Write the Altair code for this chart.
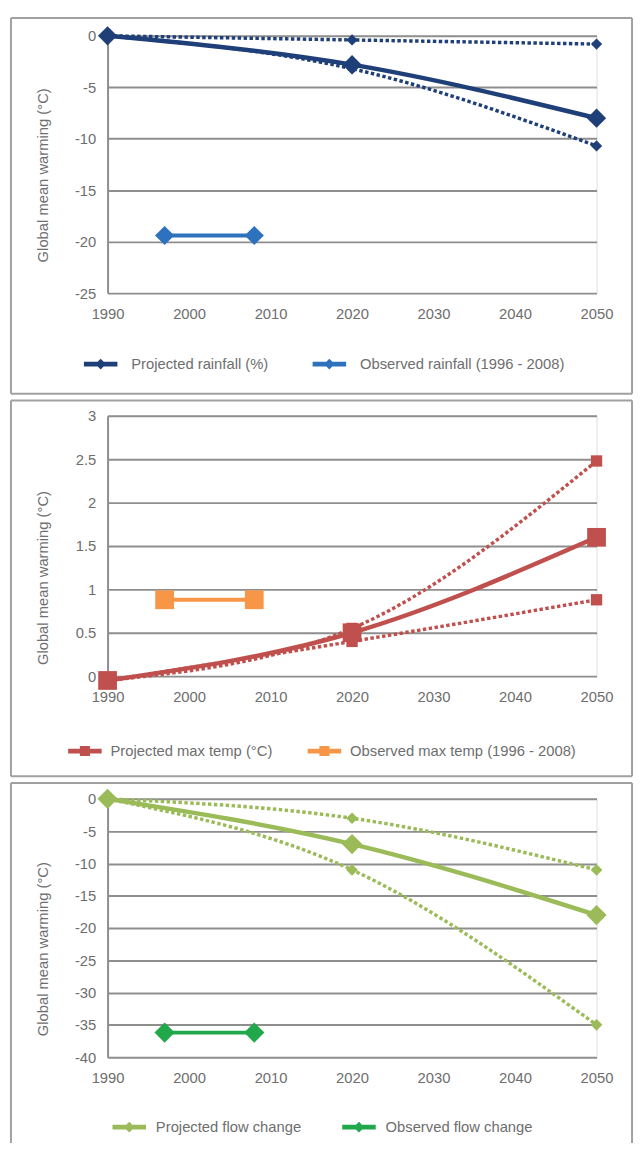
import altair as alt
import pandas as pd

# ---------------- data ----------------
years = [1990, 2020, 2050]
obs_years = [1997, 2008]
x_ticks = [1990, 2000, 2010, 2020, 2030, 2040, 2050]

rain_central = [0.0, -2.8, -8.0]
rain_high = [0.0, -0.4, -0.8]
rain_low = [0.0, -3.2, -10.7]
rain_obs = [-19.4, -19.4]
rain_ticks = [-25, -20, -15, -10, -5, 0]

temp_central = [-0.05, 0.5, 1.6]
temp_high = [-0.05, 0.55, 2.48]
temp_low = [-0.05, 0.4, 0.88]
temp_obs = [0.88, 0.88]
temp_ticks = [0, 0.5, 1, 1.5, 2, 2.5, 3]

flow_central = [0.0, -7.0, -18.0]
flow_high = [0.0, -3.0, -11.0]
flow_low = [0.0, -11.0, -35.0]
flow_obs = [-36.2, -36.2]
flow_ticks = [-40, -35, -30, -25, -20, -15, -10, -5, 0]

y_title = "Global mean warming (\u00b0C)"

# ---------------- style ----------------
FONT = "Liberation Sans"
TXT = "#6e6e6e"
GRID = "#8e8e8e"
FRAME = "#a0a0a0"
W = 496

DIAMOND_LEG = "M-1,-0.14H1V0.14H-1Z M0,-0.32L0.32,0L0,0.32L-0.32,0Z"
SQUARE_LEG = "M-1,-0.14H1V0.14H-1Z M-0.3,-0.3H0.3V0.3H-0.3Z"
LEG_SIZE = 1156


def frame_rules(top, bottom, with_bottom):
    one = alt.Data(values=[{"f": 1}])
    base = dict(color=FRAME, strokeWidth=2)
    layers = [
        alt.Chart(one).mark_rule(**base).encode(
            x=alt.value(-98), x2=alt.value(532), y=alt.value(top)),
        alt.Chart(one).mark_rule(**base).encode(
            x=alt.value(-98), y=alt.value(top), y2=alt.value(bottom)),
        alt.Chart(one).mark_rule(**base).encode(
            x=alt.value(532), y=alt.value(top), y2=alt.value(bottom)),
    ]
    if with_bottom:
        layers.append(alt.Chart(one).mark_rule(**base).encode(
            x=alt.value(-98), x2=alt.value(532), y=alt.value(bottom)))
    return layers


def panel(central, high, low, obs, proj_name, obs_name, proj_color, obs_color,
          shape, leg_path, y_domain, y_ticks, height, frame_top, frame_bottom,
          with_bottom, title_y, legend_x, legend_y, col_pad, label_offset, big, small):
    x_enc = alt.X("year:Q",
                  scale=alt.Scale(domain=[1990, 2050], nice=False, zero=False),
                  axis=alt.Axis(values=x_ticks, labelExpr="toString(datum.value)",
                                title=None, grid=False, domain=False, ticks=False,
                                tickSize=0, labelPadding=14, labelFontSize=15,
                                labelFlush=False, labelOverlap=False,
                                labelColor=TXT, labelFont=FONT))
    y_enc = alt.Y("value:Q",
                  scale=alt.Scale(domain=y_domain, nice=False, zero=False),
                  axis=alt.Axis(values=y_ticks, labelExpr="toString(datum.value)",
                                title=y_title, grid=True, gridColor=GRID, gridWidth=2,
                                domain=True, domainColor=GRID, domainWidth=2,
                                ticks=False, tickSize=0, labelPadding=12,
                                labelFlush=False, labelOverlap=False,
                                labelFontSize=15, labelColor=TXT, labelFont=FONT,
                                titleFont=FONT, titleFontSize=15, titleColor=TXT,
                                titleFontWeight="normal", titleAngle=270,
                                titleX=-66, titleY=title_y, titleAlign="center",
                                titleBaseline="middle"))

    band_df = pd.DataFrame({"year": years * 2, "value": high + low,
                            "band": ["high"] * 3 + ["low"] * 3})
    central_df = pd.DataFrame({"year": years, "value": central,
                               "series": [proj_name] * 3})
    obs_df = pd.DataFrame({"year": obs_years, "value": obs,
                           "series": [obs_name] * 2})
    pts_df = pd.concat([central_df, obs_df], ignore_index=True)

    dotted = alt.Chart(band_df).mark_line(
        color=proj_color, strokeWidth=3.5, strokeDash=[3.5, 2.5],
        interpolate="monotone"
    ).encode(x=x_enc, y=y_enc, detail="band:N")

    dotted_pts = alt.Chart(band_df).transform_filter("datum.year > 1990").mark_point(
        shape=shape, filled=True, opacity=1, size=small, color=proj_color, strokeWidth=0
    ).encode(x=x_enc, y=y_enc)

    central_line = alt.Chart(central_df).mark_line(
        color=proj_color, strokeWidth=4.5, interpolate="monotone"
    ).encode(x=x_enc, y=y_enc)

    obs_line = alt.Chart(obs_df).mark_line(
        color=obs_color, strokeWidth=4
    ).encode(x=x_enc, y=y_enc)

    pts = alt.Chart(pts_df).mark_point(
        shape=shape, filled=True, opacity=1, size=big, strokeWidth=0
    ).encode(
        x=x_enc, y=y_enc,
        color=alt.Color("series:N",
                        scale=alt.Scale(domain=[proj_name, obs_name],
                                        range=[proj_color, obs_color]),
                        legend=alt.Legend(
                            orient="none", legendX=legend_x, legendY=legend_y,
                            direction="horizontal", title=None,
                            symbolType=leg_path, symbolSize=LEG_SIZE,
                            symbolStrokeWidth=0, labelFont=FONT, labelFontSize=15,
                            labelColor=TXT, labelOffset=label_offset,
                            columnPadding=col_pad, padding=0, labelLimit=400))
    )

    layers = frame_rules(frame_top, frame_bottom, with_bottom) + [
        dotted, dotted_pts, central_line, obs_line, pts]
    return alt.layer(*layers).properties(width=W, height=height)


p1 = panel(rain_central, rain_high, rain_low, rain_obs,
           "Projected rainfall (%)", "Observed rainfall (1996 - 2008)",
           "#1f3f78", "#2e72bd", "diamond", DIAMOND_LEG,
           [-25, 0], rain_ticks, 261, -18, 363, True, 141, -24, 316, 44, 14, 380, 130)

p2 = panel(temp_central, temp_high, temp_low, temp_obs,
           "Projected max temp (\u00b0C)", "Observed max temp (1996 - 2008)",
           "#c0504d", "#f79646", "square", SQUARE_LEG,
           [0, 3], temp_ticks, 264, -15.5, 365.5, True, 164, -40, 323, 35, 9, 361, 132)

p3 = panel(flow_central, flow_high, flow_low, flow_obs,
           "Projected flow change", "Observed flow change",
           "#9bbb59", "#21a84a", "diamond", DIAMOND_LEG,
           [-40, 0], flow_ticks, 262, -16, 349, False, 152, 5, 316, 41, 10, 420, 140)

chart = alt.vconcat(p1, p2, p3, spacing=124.5, bounds="flush").resolve_scale(
    x="independent", y="independent", color="independent"
).resolve_legend(color="independent").properties(
    padding={"left": 1, "top": 0, "right": 0, "bottom": 0}
).configure_view(strokeWidth=0).configure(font=FONT)

chart.save("out.html", embed_options={"renderer": "svg", "actions": False})
